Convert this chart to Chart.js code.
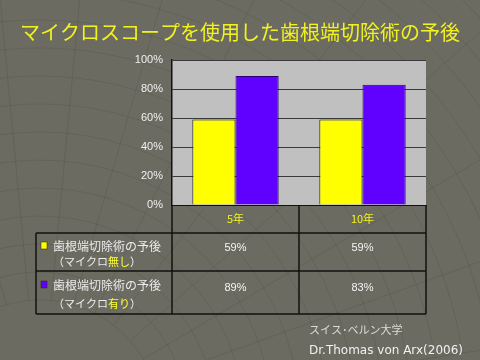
<!DOCTYPE html>
<html><head><meta charset="utf-8">
<script src="https://cdn.jsdelivr.net/npm/chart.js@4/dist/chart.umd.min.js"></script>
<style>html,body{margin:0;padding:0;background:#6b6b61;}#wrap{width:480px;height:360px;}</style>
</head><body><div id="wrap"><canvas id="c" width="480" height="360"></canvas></div>
<script>
const titleText = 'マイクロスコープを使用した歯根端切除術の予後';
const categories = ['5年', '10年'];
const withoutMicro = [59, 59];
const withMicro = [89, 83];
const seriesLabels = ['歯根端切除術の予後', '歯根端切除術の予後'];
const seriesNotes = [['（マイクロ', '無し', '）'], ['（マイクロ', '有り', '）']];
const yTicks = [0, 20, 40, 60, 80, 100];
const footer1 = 'スイス･ベルン大学';
const footer2 = 'Dr.Thomas von Arx(2006)';

const JP = '"Noto Sans CJK JP", "Noto Sans", sans-serif';
const colors = ['#ffff00', '#6000ff'];

const deco = {
  id: 'deco',
  beforeDraw(chart) {
    const ctx = chart.ctx, a = chart.chartArea;
    ctx.save();
    ctx.fillStyle = '#6b6b61';
    ctx.fillRect(0, 0, chart.width, chart.height);
    // faint background pattern
    ctx.strokeStyle = 'rgba(60,60,50,0.18)';
    ctx.lineWidth = 1;
    const cx = 40, cy = 420;
    for (let r = 120; r < 700; r += 28) {
      ctx.beginPath(); ctx.arc(cx, cy, r, Math.PI * 1.05, Math.PI * 1.95); ctx.stroke();
    }
    for (let t = 1.05; t < 1.96; t += 0.06) {
      ctx.beginPath(); ctx.moveTo(cx + 120 * Math.cos(Math.PI * t), cy + 120 * Math.sin(Math.PI * t));
      ctx.lineTo(cx + 700 * Math.cos(Math.PI * t), cy + 700 * Math.sin(Math.PI * t)); ctx.stroke();
    }
    // plot background
    ctx.fillStyle = '#c0c0c0';
    ctx.fillRect(a.left, a.top, a.right - a.left, a.bottom - a.top);
    // title
    ctx.fillStyle = '#f2f21e';
    ctx.font = '20px ' + JP;
    ctx.textAlign = 'center'; ctx.textBaseline = 'middle';
    ctx.fillText(titleText, 240, 32);
    ctx.restore();
  },
  afterDraw(chart) {
    const ctx = chart.ctx, a = chart.chartArea, xs = chart.scales.x;
    const tableLeft = 36;
    const rowTop = [233, 271], rowBot = 314;
    const mid = (xs.getPixelForValue(0) + xs.getPixelForValue(1)) / 2;
    ctx.save();
    ctx.strokeStyle = '#111'; ctx.lineWidth = 1.5;
    [rowTop[0], rowTop[1], rowBot].forEach(y => {
      ctx.beginPath(); ctx.moveTo(tableLeft, y); ctx.lineTo(a.right, y); ctx.stroke();
    });
    ctx.beginPath(); ctx.moveTo(tableLeft, rowTop[0]); ctx.lineTo(tableLeft, rowBot); ctx.stroke();
    [a.left, mid, a.right].forEach(x => {
      ctx.beginPath(); ctx.moveTo(x, a.bottom); ctx.lineTo(x, rowBot); ctx.stroke();
    });
    const series = [withoutMicro, withMicro];
    for (let i = 0; i < 2; i++) {
      const y0 = rowTop[i];
      const l1 = y0 + 13 + (i ? 1 : 0), l2 = y0 + 29 + (i ? 4 : 0);
      ctx.fillStyle = colors[i];
      ctx.fillRect(41, l1 - 4, 6, 7);
      ctx.strokeStyle = '#222'; ctx.lineWidth = 0.5; ctx.strokeRect(41, l1 - 4, 6, 7);
      ctx.font = '12px ' + JP; ctx.textBaseline = 'middle'; ctx.textAlign = 'left';
      ctx.fillStyle = '#ececec';
      ctx.fillText(seriesLabels[i], 53, l1);
      let x = 53;
      const parts = seriesNotes[i];
      ctx.font = '11px ' + JP;
      ctx.fillStyle = '#ececec'; ctx.fillText(parts[0], x, l2); x += ctx.measureText(parts[0]).width;
      ctx.fillStyle = '#ffff33'; ctx.fillText(parts[1], x, l2); x += ctx.measureText(parts[1]).width;
      ctx.fillStyle = '#ececec'; ctx.fillText(parts[2], x, l2);
      ctx.font = '11px "Liberation Sans", sans-serif'; ctx.textAlign = 'center';
      ctx.fillStyle = '#f4f4f4';
      for (let j = 0; j < categories.length; j++) {
        const cxp = (j === 0 ? (a.left + mid) / 2 : (mid + a.right) / 2);
        ctx.fillText(series[i][j] + '%', cxp, i ? 288 : 248);
      }
    }
    ctx.textAlign = 'left'; ctx.textBaseline = 'middle';
    ctx.fillStyle = '#dcdcdc';
    ctx.font = '11px ' + JP;
    ctx.fillText(footer1, 309, 330);
    ctx.font = '12px "DejaVu Sans", sans-serif';
    ctx.fillStyle = '#f0f0f0';
    ctx.fillText(footer2, 309, 351);
    ctx.restore();
  }
};

new Chart(document.getElementById('c'), {
  type: 'bar',
  data: {
    labels: categories,
    datasets: [
      { label: seriesLabels[0], data: withoutMicro, backgroundColor: colors[0], borderColor: '#222', borderWidth: 1, categoryPercentage: 0.68, barPercentage: 1.0 },
      { label: seriesLabels[1], data: withMicro, backgroundColor: colors[1], borderColor: '#2a0070', borderWidth: 1, categoryPercentage: 0.68, barPercentage: 1.0 }
    ]
  },
  options: {
    responsive: false, animation: false,
    layout: { padding: { left: 0, right: 54, top: 60, bottom: 0 } },
    plugins: { legend: { display: false }, tooltip: { enabled: false }, title: { display: false } },
    scales: {
      x: {
        grid: { display: false, drawTicks: false },
        border: { display: true, color: '#111', width: 1 },
        ticks: { color: '#f2f21e', font: { size: 11, family: JP }, padding: 7 },
        afterFit(s) { s.height = 155; }
      },
      y: {
        min: 0, max: 100,
        afterBuildTicks(s) { s.ticks = yTicks.map(v => ({ value: v })); },
        grid: { color: '#3a3a3a', lineWidth: 1, drawTicks: false },
        border: { display: true, color: '#111', width: 1.5 },
        ticks: { color: '#f0f0f0', font: { size: 11, family: '"Liberation Sans Narrow", "Liberation Sans", sans-serif' }, padding: 9, callback: v => v + '%' },
        afterFit(s) { s.width = 172; }
      }
    }
  },
  plugins: [deco]
});
</script>
</body></html>
